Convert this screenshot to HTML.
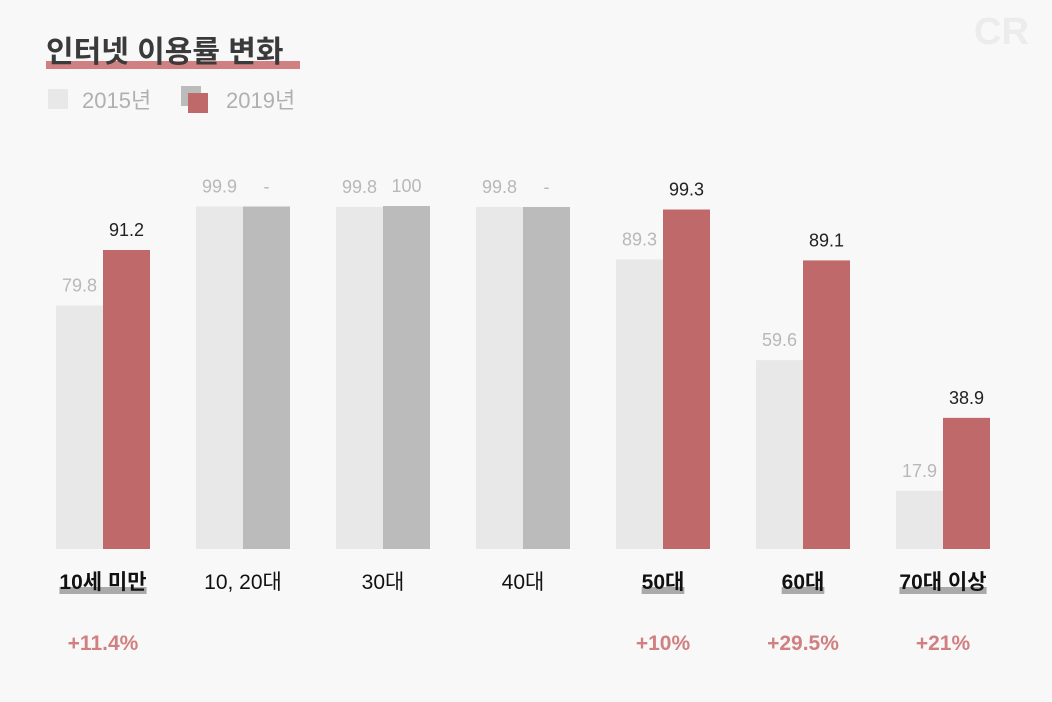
<!DOCTYPE html>
<html><head><meta charset="utf-8"><style>
body{margin:0;background:#f8f8f8;width:1052px;height:697px;overflow:hidden;font-family:"Liberation Sans","Noto Sans CJK KR",sans-serif}
svg text{font-family:"Liberation Sans","Noto Sans CJK KR",sans-serif}
</style></head><body>
<svg id="c" width="1052" height="697">
<rect x="46" y="61" width="254" height="8" fill="#d08080"/>
<text x="46" y="62" font-size="30" font-weight="bold" fill="#3a3a3a">인터넷 이용률 변화</text>
<rect x="48" y="89" width="20" height="20" fill="#e8e8e8"/>
<text x="82" y="108" font-size="22" fill="#b0b0b0">2015년</text>
<rect x="181" y="86" width="20" height="20" fill="#bbbbbb"/>
<rect x="188" y="93" width="20" height="20" fill="#c0696a"/>
<text x="226" y="108" font-size="22" fill="#b0b0b0">2019년</text>
<text x="974" y="44" font-size="38" font-weight="bold" fill="#ececec">CR</text>
<g id="bars"></g>
</svg>
<script>
const categories=["10세 미만","10, 20대","30대","40대","50대","60대","70대 이상"];
const values2015=[79.8,99.9,99.8,99.8,89.3,59.6,17.9];
const values2019=[91.2,99.9,100,99.8,99.3,89.1,38.9];
const labels2019=["91.2","-","100","-","99.3","89.1","38.9"];
const highlighted=[true,false,false,false,true,true,true];
const changes=["+11.4%","","","","+10%","+29.5%","+21%"];
const base=549;
// piecewise-linear axis (the original graphic is not strictly linear)
const knotsV=[0,20,40,60,80,90,100];
const knotsH=[0,65,135,190,244,293,343];
function yScale(v){
  for(let k=1;k<knotsV.length;k++){
    if(v<=knotsV[k]||k===knotsV.length-1){
      const t=(v-knotsV[k-1])/(knotsV[k]-knotsV[k-1]);
      return base-(knotsH[k-1]+t*(knotsH[k]-knotsH[k-1]));
    }
  }
}
function xScale(i){return 56+140*i;}
const g=document.getElementById('bars');
const NS="http://www.w3.org/2000/svg";
function mk(tag,attrs,txt){const e=document.createElementNS(NS,tag);for(const k in attrs)e.setAttribute(k,attrs[k]);if(txt!==undefined)e.textContent=txt;g.appendChild(e);return e;}
categories.forEach((c,i)=>{
  const x=xScale(i),w=47,cx=x+w;
  let e=mk('rect',{x:x,y:yScale(values2015[i]),width:w,height:base-yScale(values2015[i]),fill:'#e8e8e8'});
  
  
  const hl=highlighted[i];
  e=mk('rect',{x:x+w,y:yScale(values2019[i]),width:w,height:base-yScale(values2019[i]),fill:hl?'#c0696a':'#bbbbbb'});
  
  
  e=mk('text',{x:x+w/2,y:yScale(values2015[i])-14,'text-anchor':'middle','font-size':18,fill:'#b8b8b8'},values2015[i].toFixed(1));
  
  
  e=mk('text',{x:x+w*1.5,y:yScale(values2019[i])-14,'text-anchor':'middle','font-size':18,fill:hl?'#222':'#b8b8b8'},labels2019[i]);
  
  
  const t=mk('text',{x:cx,y:589,'text-anchor':'middle','font-size':21,'font-weight':hl?'bold':'normal',fill:'#111'},c);
  if(hl){const bb=t.getBBox();const r=document.createElementNS(NS,'rect');r.setAttribute('x',bb.x);r.setAttribute('y',587);r.setAttribute('width',bb.width);r.setAttribute('height',7);r.setAttribute('fill','#aaaaaa');g.insertBefore(r,t);
    
    }
  
  
  if(changes[i]){e=mk('text',{x:cx,y:650,'text-anchor':'middle','font-size':21,'font-weight':'bold',fill:'#d08080'},changes[i]);
    
    }
});
</script>
</body></html>
